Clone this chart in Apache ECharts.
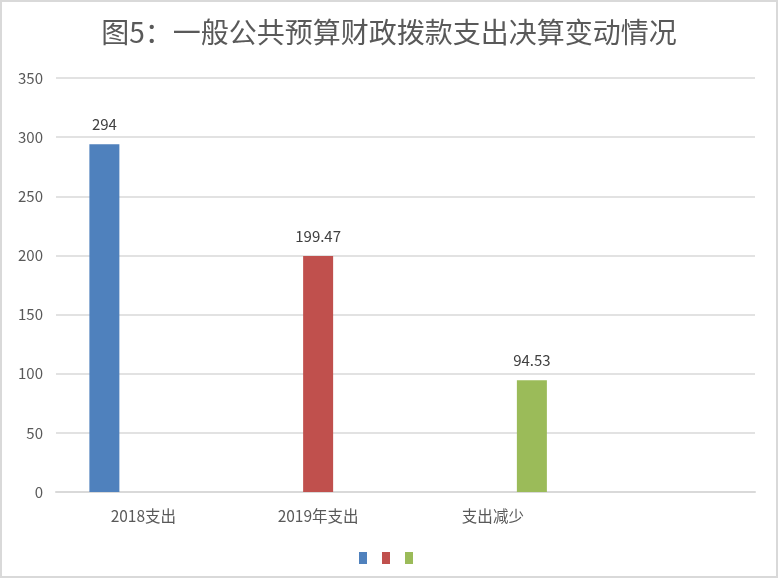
<!DOCTYPE html>
<html><head><meta charset="utf-8">
<script src="https://cdn.jsdelivr.net/npm/echarts@6/dist/echarts.min.js"></script>
<style>
html,body{margin:0;padding:0;background:#fff;}
#c{width:778px;height:578px;box-sizing:border-box;border:2px solid #d9d9d9;}
</style></head>
<body><div id="c"></div>
<script>
const titleText = '图5：一般公共预算财政拨款支出决算变动情况';
const categories = ['2018支出', '2019年支出', '支出减少', ''];
const seriesNames = ['2018支出', '2019年支出', '支出减少'];
const v2018 = [294, null, null, null];
const v2019 = [null, 199.47, null, null];
const vDecrease = [null, null, 94.53, null];
const colors = ['#4F81BD', '#C0504D', '#9BBB59'];
const yTicks = {min: 0, max: 350, interval: 50};

const chart = echarts.init(document.getElementById('c'), null, {renderer: 'canvas'});
const font = '"Noto Sans CJK SC", "Noto Sans", sans-serif';
const data = [v2018, v2019, vDecrease];
chart.setOption({
  animation: false,
  textStyle: {fontFamily: font},
  title: {
    text: titleText, left: 'center', top: 11,
    textStyle: {fontSize: 28, fontWeight: 'normal', color: '#595959', fontFamily: font}
  },
  grid: {left: 54, right: 21, top: 76, bottom: 84},
  legend: {
    left: 352, top: 545, itemWidth: 8, itemHeight: 12, itemGap: 15,
    icon: 'rect', formatter: () => '', data: seriesNames,
    textStyle: {padding: 0}
  },
  xAxis: {
    type: 'category', data: categories,
    axisLine: {lineStyle: {color: '#d9d9d9', width: 2}},
    axisTick: {show: false},
    axisLabel: {color: '#595959', fontSize: 15.5, margin: 16}
  },
  yAxis: {
    type: 'value', min: yTicks.min, max: yTicks.max, interval: yTicks.interval,
    axisLine: {show: false}, axisTick: {show: false},
    splitLine: {lineStyle: {color: '#d9d9d9', width: 1.5}},
    axisLabel: {color: '#595959', fontSize: 15, margin: 13}
  },
  series: seriesNames.map((n, i) => ({
    name: n, type: 'bar', data: data[i], barWidth: 30, barGap: '30%',
    itemStyle: {color: colors[i]},
    label: {show: true, position: 'top', distance: 12, color: '#404040', fontSize: 15}
  }))
});
</script></body></html>
